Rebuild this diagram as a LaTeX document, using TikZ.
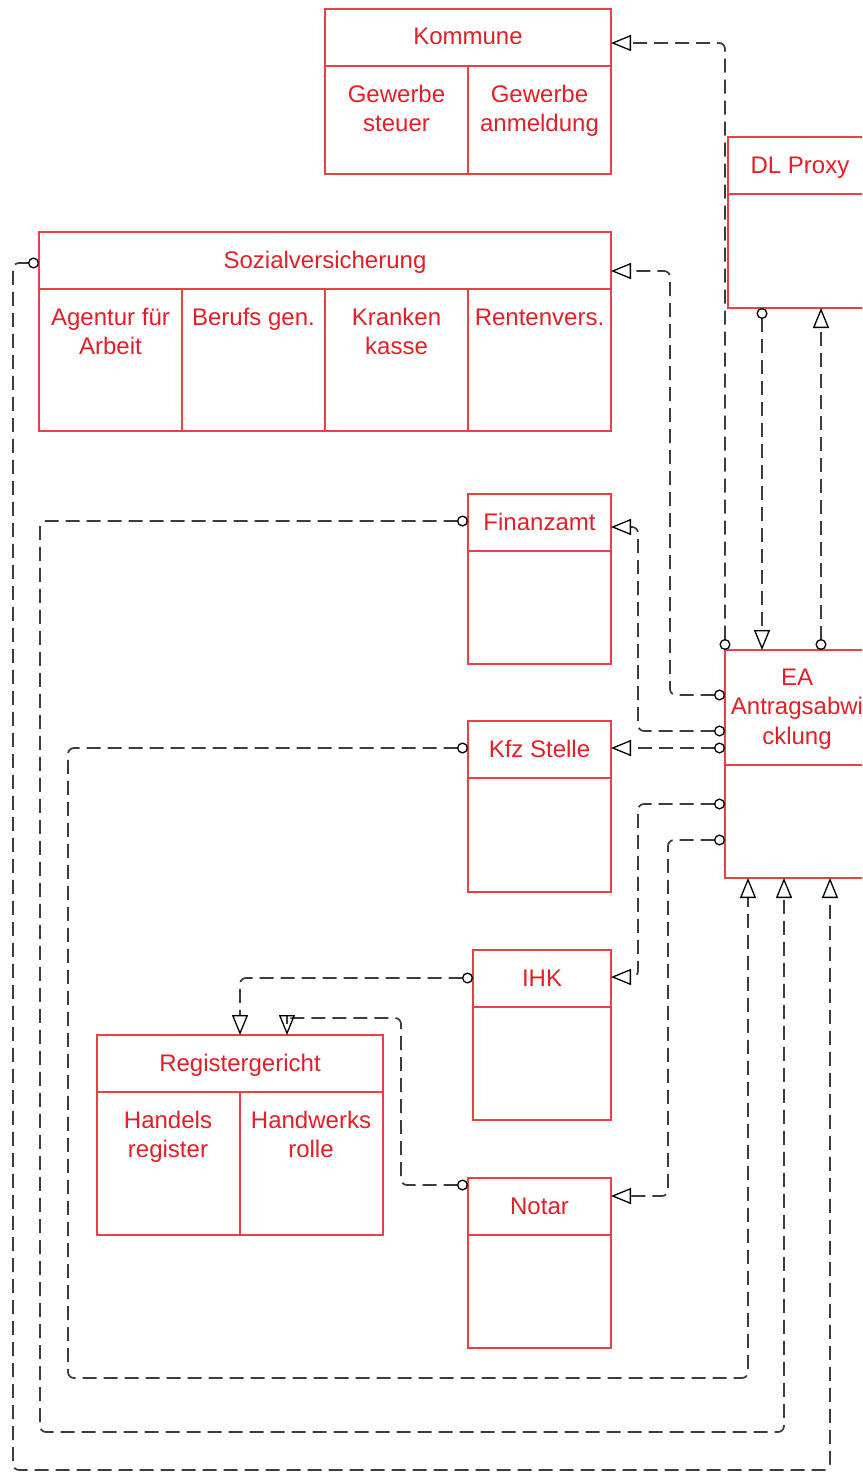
\documentclass[tikz,border=0pt]{standalone}
\usepackage{fontspec}
\setmainfont{Liberation Sans}
\usetikzlibrary{arrows.meta,calc}

\definecolor{umlred}{RGB}{228,30,38}
\definecolor{umlline}{RGB}{232,64,68}
\definecolor{linkgray}{RGB}{60,60,60}

\begin{document}
\begin{tikzpicture}[
  x=1pt, y=-1pt,
  cls/.style={rectangle,draw=umlline,line width=1.8pt,anchor=north west,inner sep=0pt,outer sep=0pt},
  lbl/.style={text=umlred,align=center,anchor=base,inner sep=0pt,font=\fontsize{24}{29.5}\selectfont},
  sep/.style={draw=umlline,line width=1.8pt},
  link/.style={draw=linkgray,line width=1.7pt,dash pattern=on 14pt off 7pt,rounded corners=6pt,
    {Circle[open,length=11pt,width=11pt,line width=1.3pt,color=black]}-{Triangle[open,length=20pt,width=16pt,line width=1.3pt,color=black]}},
]
  \useasboundingbox (0,0) rectangle (862,1472);
  \clip (0,0) rectangle (862,1472);

  % boxes
  \node[cls,minimum width=286,minimum height=165] (kom) at (325,9) {};
  \node[cls,minimum width=150,minimum height=171] (dl) at (728,137) {};
  \node[cls,minimum width=572,minimum height=199] (soz) at (39,232) {};
  \node[cls,minimum width=143,minimum height=170] (fin) at (468,494) {};
  \node[cls,minimum width=150,minimum height=228] (ea) at (725,650) {};
  \node[cls,minimum width=143,minimum height=171] (kfz) at (468,721) {};
  \node[cls,minimum width=138,minimum height=170] (ihk) at (473,950) {};
  \node[cls,minimum width=286,minimum height=200] (reg) at (97,1035) {};
  \node[cls,minimum width=143,minimum height=170] (notar) at (468,1178) {};

  % compartments
  \foreach \b in {kom,dl,soz,fin,kfz,ihk,reg,notar}
    \draw[sep] ($(\b.north west)+(0,57)$) -- ($(\b.north east)+(0,57)$);
  \draw[sep] ($(ea.north west)+(0,115)$) -- ($(ea.north east)+(0,115)$);
  \draw[sep] ($(kom.north)+(0,57)$) -- (kom.south);
  \draw[sep] ($(reg.north)+(0,57)$) -- (reg.south);
  \foreach \f in {0.25,0.5,0.75}
    \draw[sep] ($(soz.north west)!\f!(soz.north east)+(0,57)$) -- ($(soz.south west)!\f!(soz.south east)$);

  % labels
  \node[lbl] (komh) at (468,45) {Kommune};
  \node[lbl] (koms) at (396.5,131.5) {Gewerbe\\steuer};
  \node[lbl] (koma) at (539.5,131.5) {Gewerbe\\anmeldung};
  \node[lbl] (dlh) at (800,173) {DL Proxy};
  \node[lbl] (sozh) at (325,268) {Sozialversicherung};
  \node[lbl] (soza) at (110.5,354.5) {Agentur für\\Arbeit};
  \node[lbl] (sozb) at (253.5,325) {Berufs gen.};
  \node[lbl] (sozk) at (396.5,354.5) {Kranken\\kasse};
  \node[lbl] (sozr) at (539.5,325) {Rentenvers.};
  \node[lbl] (finh) at (539.5,530) {Finanzamt};
  \node[lbl] (eah) at (797,744) {EA\\Antragsabwi\\cklung};
  \node[lbl] (kfzh) at (539.5,757) {Kfz Stelle};
  \node[lbl] (ihkh) at (542,986) {IHK};
  \node[lbl] (regh) at (240,1071) {Registergericht};
  \node[lbl] (regha) at (168,1157.5) {Handels\\register};
  \node[lbl] (regw) at (311,1157.5) {Handwerks\\rolle};
  \node[lbl] (notarh) at (539.5,1214) {Notar};

  % links out of EA
  \draw[link] (ea.north west) |- ($(kom.north east)+(0,34)$);
  \draw[link] ($(dl.south west)+(34,0)$) -- ($(ea.north west)+(37,0)$);
  \draw[link] ($(ea.north west)+(96,0)$) -- ($(dl.south west)+(93,0)$);
  \draw[link] ($(ea.north west)+(0,45)$) -| ($(soz.north east)+(59,39)$) -- ($(soz.north east)+(0,39)$);
  \draw[link] ($(ea.north west)+(0,81)$) -| ($(fin.north east)+(27,33)$) -- ($(fin.north east)+(0,33)$);
  \draw[link] ($(ea.north west)+(0,98)$) -- ($(kfz.north east)+(0,27)$);
  \draw[link] ($(ea.north west)+(0,154)$) -| ($(ihk.north east)+(27,27)$) -- ($(ihk.north east)+(0,27)$);
  \draw[link] ($(ea.north west)+(0,190)$) -| ($(notar.north east)+(57,18)$) -- ($(notar.north east)+(0,18)$);

  % links into EA from below
  \draw[link] ($(soz.north west)+(0,31)$) -| ($(soz.north west)+(-26,1238)$) -| ($(ea.south west)+(105,0)$);
  \draw[link] ($(fin.north west)+(0,27)$) -| ($(fin.north west)+(-428,938)$) -| ($(ea.south west)+(59,0)$);
  \draw[link] ($(kfz.north west)+(0,27)$) -| ($(kfz.north west)+(-400,657)$) -| ($(ea.south west)+(23,0)$);

  % links into Registergericht
  \draw[link] ($(ihk.north west)+(0,28)$) -| ($(reg.north west)+(143,0)$);
  \draw[link] ($(notar.north west)+(0,7)$) -| ($(reg.north east)+(18,-17)$) -| ($(reg.north west)+(190,0)$);
\end{tikzpicture}
\end{document}
